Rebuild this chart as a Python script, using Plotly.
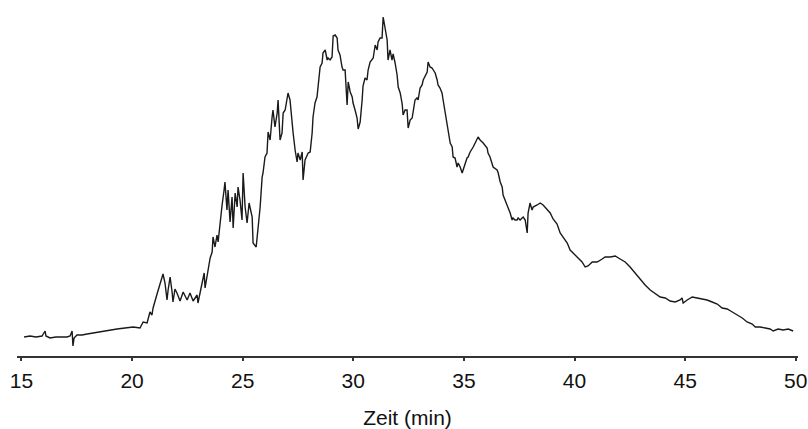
import plotly.graph_objects as go

time_min = [
    15.12, 15.39, 15.66, 15.93, 16.07, 16.11, 16.29, 16.56, 16.84, 17.06,
    17.20, 17.29, 17.33, 17.38, 17.51, 17.74, 17.97, 18.24, 18.55, 18.92,
    19.32, 19.68, 20.05, 20.36, 20.50, 20.68, 20.81, 20.90, 20.95, 21.13,
    21.27, 21.40, 21.49, 21.58, 21.63, 21.72, 21.81, 21.85, 21.94, 22.03,
    22.17, 22.31, 22.49, 22.62, 22.76, 22.94, 22.98, 23.07, 23.16, 23.26,
    23.30, 23.39, 23.53, 23.62, 23.66, 23.75, 23.84, 23.89, 23.98, 24.07,
    24.16, 24.20, 24.29, 24.34, 24.43, 24.52, 24.57, 24.66, 24.75, 24.79,
    24.88, 24.97, 25.02, 25.11, 25.20, 25.29, 25.43, 25.47, 25.61, 25.70,
    25.79, 25.88, 25.92, 26.01, 26.10, 26.15, 26.24, 26.33, 26.37, 26.46,
    26.56, 26.60, 26.69, 26.78, 26.83, 26.92, 27.01, 27.05, 27.14, 27.23,
    27.28, 27.37, 27.46, 27.50, 27.60, 27.69, 27.73, 27.82, 27.96, 28.05,
    28.14, 28.18, 28.27, 28.36, 28.41, 28.50, 28.59, 28.63, 28.73, 28.82,
    28.86, 28.95, 29.04, 29.09, 29.18, 29.27, 29.31, 29.40, 29.49, 29.54,
    29.63, 29.72, 29.77, 29.86, 29.95, 29.99, 30.08, 30.17, 30.22, 30.31,
    30.40, 30.44, 30.53, 30.62, 30.67, 30.76, 30.90, 30.99, 31.08, 31.12,
    31.21, 31.30, 31.35, 31.44, 31.53, 31.57, 31.66, 31.75, 31.80, 31.89,
    31.98, 32.03, 32.12, 32.21, 32.25, 32.34, 32.43, 32.48, 32.57, 32.66,
    32.70, 32.79, 32.88, 32.93, 33.02, 33.11, 33.16, 33.25, 33.34, 33.38,
    33.47, 33.56, 33.70, 33.79, 33.83, 33.92, 34.01, 34.06, 34.15, 34.24,
    34.29, 34.38, 34.47, 34.51, 34.60, 34.69, 34.74, 34.83, 34.92, 34.96,
    35.05, 35.14, 35.19, 35.28, 35.42, 35.60, 35.64, 35.73, 35.87, 36.05,
    36.09, 36.18, 36.32, 36.50, 36.55, 36.64, 36.73, 36.77, 36.86, 36.95,
    37.00, 37.09, 37.18, 37.22, 37.31, 37.40, 37.45, 37.54, 37.63, 37.68,
    37.77, 37.86, 37.90, 37.99, 38.08, 38.13, 38.31, 38.45, 38.58, 38.76,
    38.90, 39.03, 39.21, 39.35, 39.48, 39.67, 39.80, 39.94, 40.12, 40.25,
    40.34, 40.48, 40.61, 40.80, 41.02, 41.25, 41.38, 41.61, 41.84, 42.06,
    42.29, 42.51, 42.74, 42.97, 43.19, 43.42, 43.64, 43.87, 44.10, 44.32,
    44.55, 44.77, 44.86, 44.91, 45.09, 45.32, 45.54, 45.77, 45.99, 46.22,
    46.45, 46.67, 46.90, 47.13, 47.35, 47.58, 47.80, 48.03, 48.17, 48.39,
    48.62, 48.84, 48.98, 49.20, 49.43, 49.66, 49.88,
]

signal = [
    19, 20, 19, 20, 25, 20, 18, 19, 19, 19,
    20, 25, 10, 18, 21, 21, 22, 23, 24, 26,
    27, 28, 29, 28, 34, 33, 44, 41, 48, 62,
    73, 82, 73, 56, 66, 79, 64, 54, 67, 63,
    55, 64, 56, 63, 55, 61, 53, 63, 74, 83,
    68, 81, 98, 104, 119, 109, 121, 114, 136, 151,
    166, 174, 146, 166, 134, 159, 128, 163, 149, 169,
    156, 136, 183, 149, 133, 153, 139, 113, 109, 129,
    149, 179, 183, 199, 203, 224, 216, 239, 246, 229,
    243, 256, 216, 223, 243, 246, 256, 263, 256, 229,
    223, 206, 194, 203, 196, 204, 176, 196, 203, 204,
    223, 239, 253, 259, 273, 289, 293, 303, 306, 296,
    298, 296, 299, 320, 321, 318, 306, 301, 289, 286,
    286, 251, 274, 264, 259, 253, 246, 238, 227, 234,
    256, 270, 278, 276, 286, 294, 298, 311, 306, 314,
    318, 318, 339, 325, 316, 296, 306, 296, 302, 293,
    281, 269, 263, 252, 241, 246, 246, 228, 236, 238,
    243, 256, 258, 256, 268, 271, 276, 281, 284, 294,
    289, 288, 283, 276, 271, 268, 263, 256, 243, 233,
    223, 213, 209, 199, 198, 189, 193, 189, 183, 186,
    193, 198, 199, 204, 209, 216, 219, 216, 213, 208,
    203, 199, 189, 186, 183, 174, 169, 161, 156, 151,
    148, 143, 136, 138, 136, 136, 138, 136, 138, 139,
    136, 123, 143, 153, 146, 149, 151, 153, 151, 147,
    143, 137, 132, 123, 119, 113, 106, 103, 99, 96,
    94, 89, 90, 94, 94, 97, 99, 99, 100, 97,
    94, 89, 83, 76, 71, 66, 63, 59, 58, 55,
    54, 56, 58, 53, 56, 59, 58, 57, 56, 54,
    52, 48, 47, 44, 41, 38, 34, 32, 29, 29,
    28, 27, 25, 27, 26, 27, 25,
]

tick_values = [15, 20, 25, 30, 35, 40, 45, 50]
tick_labels = ["15", "20", "25", "30", "35", "40", "45", "50"]
x_title = "Zeit (min)"

fig = go.Figure()
fig.add_trace(go.Scatter(
    x=time_min, y=signal, mode="lines",
    line=dict(color="#1a1a1a", width=1.4),
    hoverinfo="skip", showlegend=False,
))

fig.update_layout(
    width=808, height=429,
    margin=dict(l=17, r=10, t=0, b=73, pad=0),
    paper_bgcolor="white", plot_bgcolor="white",
    font=dict(family="Liberation Sans, Arial, sans-serif", size=21, color="#111"),
    xaxis=dict(
        range=[14.8, 50.1],
        tickmode="array", tickvals=tick_values, ticktext=tick_labels,
        ticks="outside", ticklen=3, tickwidth=1.5, tickcolor="#333",
        ticklabelstandoff=2,
        showline=True, linecolor="#333", linewidth=2,
        showgrid=False, zeroline=False, automargin=False,
        tickfont=dict(size=21, color="#111"),
        title=dict(text=x_title, font=dict(size=21, color="#111"), standoff=22),
    ),
    yaxis=dict(range=[0, 356], visible=False, showgrid=False, zeroline=False),
)

fig.write_html(
    "out.html",
    config={"displayModeBar": False},
    post_script="document.body.style.margin='0px';document.body.style.overflow='hidden';",
)
